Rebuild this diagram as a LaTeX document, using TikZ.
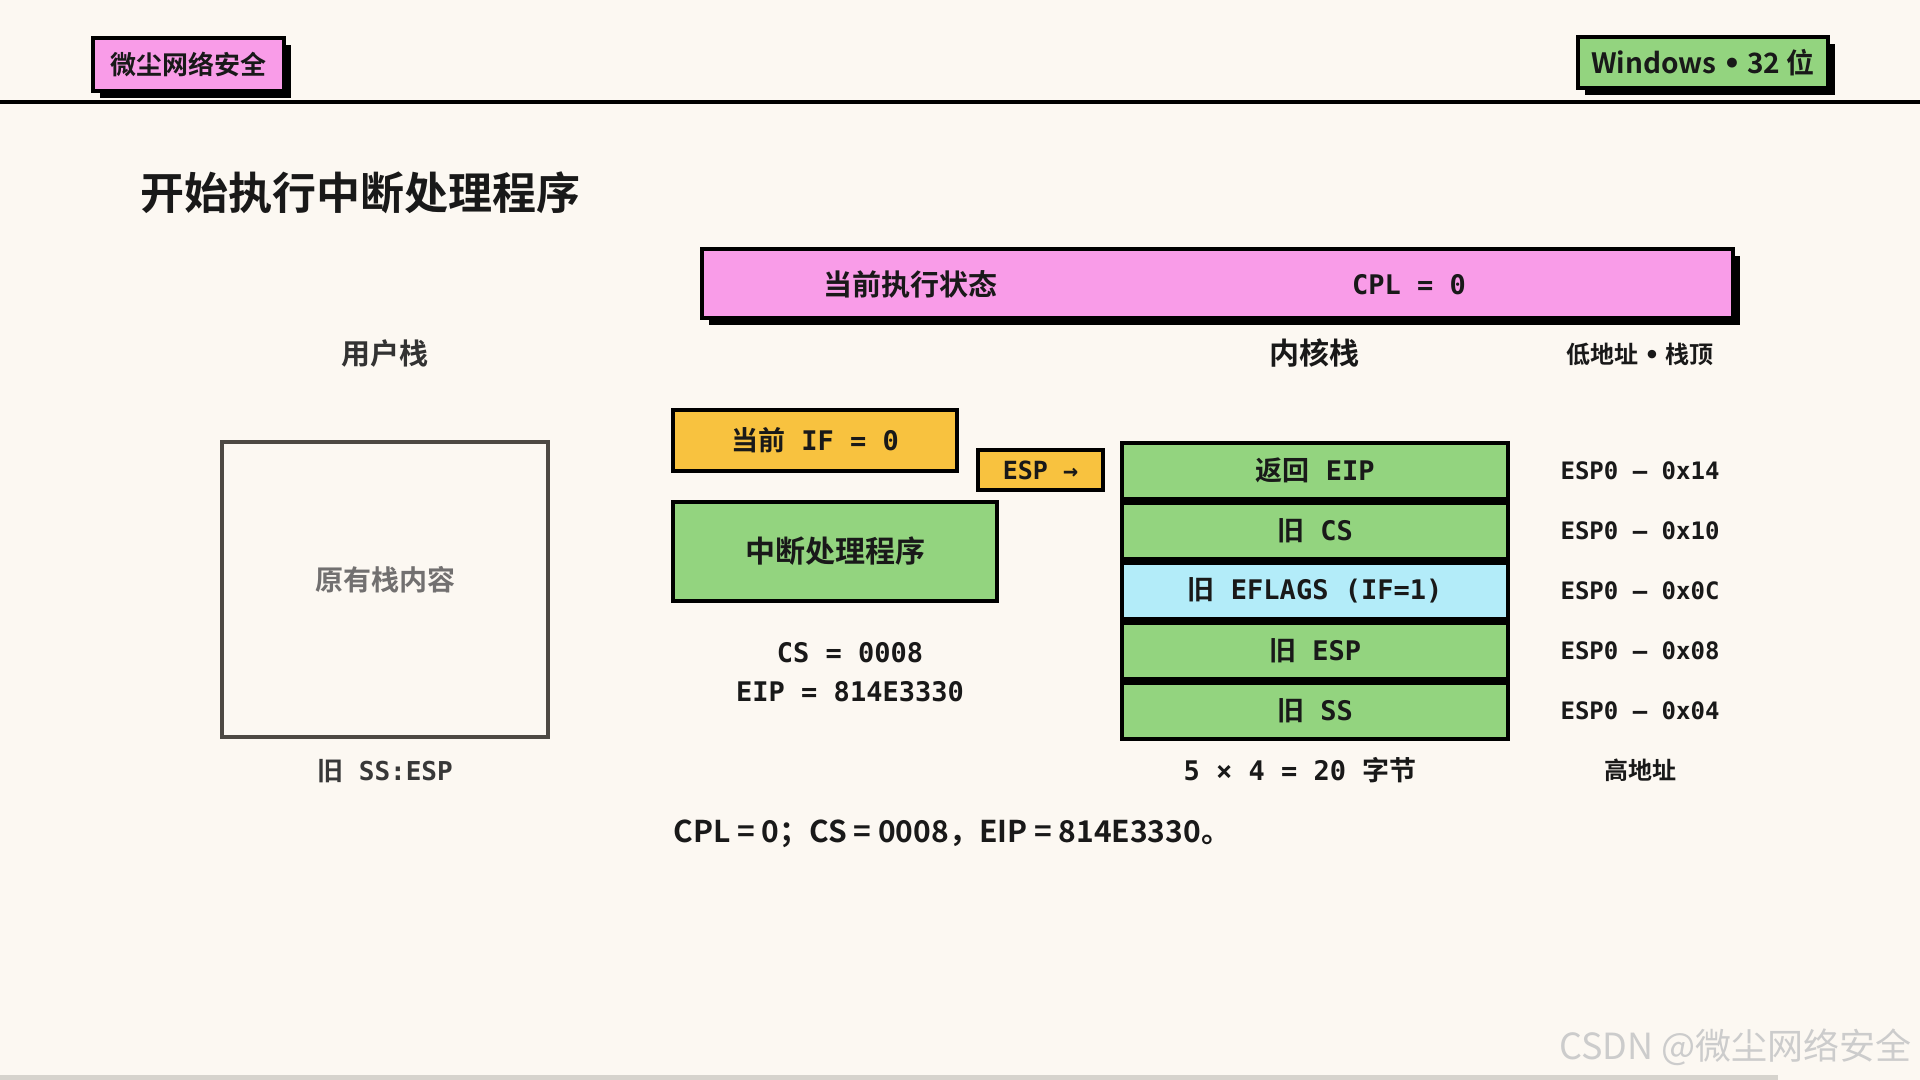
\documentclass[tikz,border=0pt]{standalone}
\usepackage{fontspec}
\usetikzlibrary{positioning,shadows}
\newfontfamily\cjk{Noto Sans CJK SC}[BoldFont=Noto Sans CJK SC Bold]
\newfontfamily\mono{DejaVu Sans Mono}[BoldFont=DejaVu Sans Mono Bold]
\newfontfamily\sym{DejaVu Sans}
\definecolor{paper}{HTML}{FCF8F2}
\definecolor{tagpink}{HTML}{F99CE8}
\definecolor{stackgreen}{HTML}{93D47F}
\definecolor{ifyellow}{HTML}{F8C23F}
\definecolor{flagblue}{HTML}{B3ECF9}
\definecolor{userline}{HTML}{4D4943}
\definecolor{softtext}{HTML}{727070}
\definecolor{bargray}{HTML}{D6D3CD}
\newcommand\sz[1]{\fontsize{#1}{#1}\selectfont}

\begin{document}
\begin{tikzpicture}[
                x=0.5pt, y=-0.5pt,
                every node/.style={inner sep=0pt, text=black!90},
                hardbox/.style={draw=black, line width=2pt},
                shadowbox/.style={hardbox, drop shadow={shadow xshift=3.5pt, shadow yshift=-3.5pt, opacity=1, fill=black}},
                cell/.style={hardbox, fill=stackgreen, minimum width=193pt, minimum height=28pt, font=\mono\bfseries\sz{13.5}},
                addr/.style={font=\mono\bfseries\sz{12}},
                heading/.style={font=\cjk\bfseries\sz{14.5}}
            ]
                \fill [paper] (0,0) rectangle (1920,1080);
                \useasboundingbox (0,0) rectangle (1920,1080);
                \fill [bargray] (0,1075) rectangle (1778,1080);

                \node [shadowbox, fill=tagpink, minimum width=95.5pt, minimum height=26.5pt, font=\cjk\bfseries\sz{13}] (brand) at (188,64.5) {微尘网络安全};
                \node [shadowbox, fill=stackgreen, minimum width=125pt, minimum height=25.5pt, font=\cjk\bfseries\sz{14}] (platform) at (1703,63) {Windows {\sym •} 32 位};
                \draw [line width=2pt] (0,102) -- (1920,102);

                \node [anchor=west, font=\cjk\bfseries\sz{22}] (title) at (140,193) {开始执行中断处理程序};

                \node [shadowbox, fill=tagpink, minimum width=515.5pt, minimum height=34.5pt] (state) at (1217.5,283.5) {};
                \node [font=\cjk\bfseries\sz{14.5}] (statename) at (910,284.5) {当前执行状态};
                \node [font=\mono\bfseries\sz{13.5}] (cpl) at (1409,284.5) {CPL = 0};

                \node [heading, text=black!80] (usertitle) at (385,354) {用户栈};
                \node [draw=userline, line width=2pt, minimum width=163pt, minimum height=147.5pt] (ustack) at (385,589.5) {};
                \node [font=\cjk\bfseries\sz{14}, text=softtext] (ucontent) at ([yshift=5pt]ustack.center) {原有栈内容};
                \node [font=\mono\bfseries\sz{13}, text=black!78] (oldptr) at (385,771) {{\cjk 旧} SS:ESP};

                \node [hardbox, fill=ifyellow, minimum width=142pt, minimum height=30.5pt, font=\mono\bfseries\sz{13.5}] (ifflag) at (815,440.5) {{\cjk 当前} IF = 0};
                \node [hardbox, fill=ifyellow, minimum width=62.5pt, minimum height=20pt, font=\mono\bfseries\sz{12.5}] (esp) at (1040.5,470) {ESP →};
                \node [hardbox, fill=stackgreen, minimum width=162pt, minimum height=49.5pt, font=\cjk\bfseries\sz{15}] (handler) at (835,551.5) {中断处理程序};
                \node [align=center, font=\mono\bfseries\fontsize{13.5}{19.5}\selectfont] (target) at (850,672.5) {CS = 0008\\EIP = 814E3330};

                \node [heading, font=\cjk\bfseries\sz{15}] (kerneltitle) at (1314,353) {内核栈};
                \node [font=\cjk\bfseries\sz{12}] (lowaddr) at (1640,354) {低地址 {\sym •} 栈顶};
                \coordinate (addrcol) at (1640,0);

                \node [cell] (k1) at (1315,470.5) {{\cjk 返回} EIP};
                \node [cell] (k2) [below=0pt of k1] {{\cjk 旧} CS};
                \node [cell, fill=flagblue] (k3) [below=0pt of k2] {{\cjk 旧} EFLAGS (IF=1)};
                \node [cell] (k4) [below=0pt of k3] {{\cjk 旧} ESP};
                \node [cell] (k5) [below=0pt of k4] {{\cjk 旧} SS};

                \node [addr] (a1) at (k1 -| addrcol) {ESP0 – 0x14};
                \node [addr] (a2) at (k2 -| addrcol) {ESP0 – 0x10};
                \node [addr] (a3) at (k3 -| addrcol) {ESP0 – 0x0C};
                \node [addr] (a4) at (k4 -| addrcol) {ESP0 – 0x08};
                \node [addr] (a5) at (k5 -| addrcol) {ESP0 – 0x04};

                \node [font=\mono\bfseries\sz{13.5}] (framesize) at (1300,770) {5 × 4 = 20 {\cjk 字节}};
                \node [font=\cjk\bfseries\sz{12}] (highaddr) at (1640,770) {高地址};

                \node [anchor=west, font=\cjk\bfseries\sz{15}] (summary) at (673,834) {CPL = 0；CS = 0008，EIP = 814E3330。};

                \node [anchor=east, font=\cjk\sz{18}, text=black!20] (mark) at (1912,1047) {CSDN @微尘网络安全};
            \end{tikzpicture}
\end{document}
